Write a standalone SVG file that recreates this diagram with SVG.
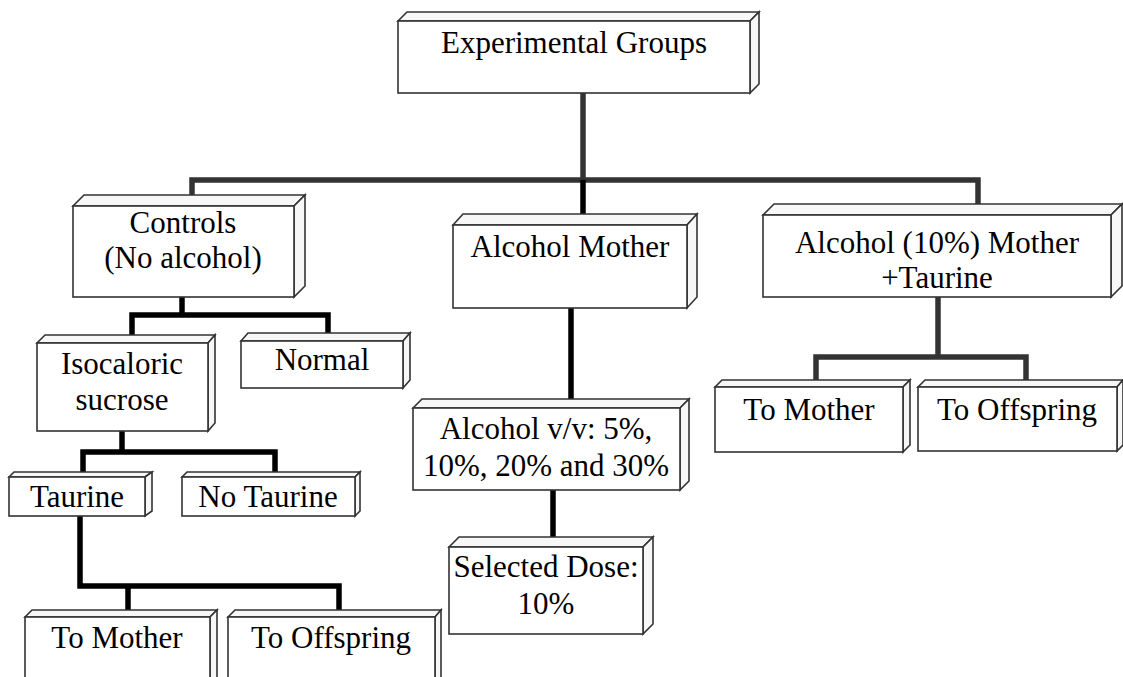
<svg xmlns="http://www.w3.org/2000/svg" width="1123" height="677" viewBox="0 0 1123 677">
<style>
.f{fill:#fff;stroke:#333;stroke-width:1.6;stroke-linejoin:miter}
.s{fill:#f7f7f7;stroke:#333;stroke-width:1.6}
.t{font-family:"Liberation Serif","Times New Roman",serif;font-size:31px;fill:#000;text-anchor:middle}
.c{fill:none;stroke:#000;stroke-width:5.5;stroke-linejoin:miter;stroke-linecap:butt}
.g{stroke:#333}
</style>
<rect width="1123" height="677" fill="#fff"/>
<g id="connectors">
<path class="c g" d="M583 93V180"/>
<path class="c g" d="M192 195V180H978V204"/>
<path class="c" d="M583 180V214"/>
<path class="c" d="M571 308V399"/>
<path class="c" d="M553 490V537"/>
<path class="c g" d="M938 297V357"/>
<path class="c g" d="M816 380V357H1026V380"/>
<path class="c" d="M182 297V315"/>
<path class="c" d="M132 335V315H328V333"/>
<path class="c" d="M122 431V452"/>
<path class="c" d="M83 472V452H275V472"/>
<path class="c" d="M80 516V586H339V610"/>
<path class="c" d="M128 586V610"/>
</g>
<g id="n-experimental">
<polygon class="s" points="398,21 407,12 759,12 750,21"/>
<polygon class="s" points="750,21 759,12 759,84 750,93"/>
<rect class="f" x="398" y="21" width="352" height="72"/>
<text class="t" x="574" y="53">Experimental Groups</text>
</g>
<g id="n-controls">
<polygon class="s" points="73,206 84,195 305,195 294,206"/>
<polygon class="s" points="294,206 305,195 305,286 294,297"/>
<rect class="f" x="73" y="206" width="221" height="91"/>
<text class="t" x="183" y="233">Controls</text>
<text class="t" x="183" y="268">(No alcohol)</text>
</g>
<g id="n-alcohol-mother">
<polygon class="s" points="453,225 463,214 697,214 687,225"/>
<polygon class="s" points="687,225 697,214 697,297 687,308"/>
<rect class="f" x="453" y="225" width="234" height="83"/>
<text class="t" x="570" y="257">Alcohol Mother</text>
</g>
<g id="n-alcohol-taurine">
<polygon class="s" points="763,215 774,204 1122,204 1111,215"/>
<polygon class="s" points="1111,215 1122,204 1122,286 1111,297"/>
<rect class="f" x="763" y="215" width="348" height="82"/>
<text class="t" x="937" y="253">Alcohol (10%) Mother</text>
<text class="t" x="937" y="288">+Taurine</text>
</g>
<g id="n-normal">
<polygon class="s" points="241,341 248,333 410,333 403,341"/>
<polygon class="s" points="403,341 410,333 410,380 403,388"/>
<rect class="f" x="241" y="341" width="162" height="47"/>
<text class="t" x="322" y="370">Normal</text>
</g>
<g id="n-isocaloric">
<polygon class="s" points="37,343 45,335 215,335 208,343"/>
<polygon class="s" points="208,343 215,335 215,423 208,431"/>
<rect class="f" x="37" y="343" width="171" height="88"/>
<text class="t" x="122" y="374">Isocaloric</text>
<text class="t" x="122" y="410">sucrose</text>
</g>
<g id="n-taurine">
<polygon class="s" points="9,477 14,472 152,472 145,477"/>
<polygon class="s" points="145,477 152,472 152,511 145,516"/>
<rect class="f" x="9" y="477" width="136" height="39"/>
<text class="t" x="77" y="507">Taurine</text>
</g>
<g id="n-no-taurine">
<polygon class="s" points="182,477 187,472 360,472 355,477"/>
<polygon class="s" points="355,477 360,472 360,511 355,516"/>
<rect class="f" x="182" y="477" width="173" height="39"/>
<text class="t" x="268" y="507">No Taurine</text>
</g>
<g id="n-alcohol-vv">
<polygon class="s" points="413,408 422,399 689,399 680,408"/>
<polygon class="s" points="680,408 689,399 689,481 680,490"/>
<rect class="f" x="413" y="408" width="267" height="82"/>
<text class="t" x="546" y="439">Alcohol v/v: 5%,</text>
<text class="t" x="546" y="476">10%, 20% and 30%</text>
</g>
<g id="n-selected-dose">
<polygon class="s" points="449,547 459,537 653,537 643,547"/>
<polygon class="s" points="643,547 653,537 653,624 643,634"/>
<rect class="f" x="449" y="547" width="194" height="87"/>
<text class="t" x="546" y="577">Selected Dose:</text>
<text class="t" x="546" y="614">10%</text>
</g>
<g id="n-to-mother-r">
<polygon class="s" points="715,387 722,380 910,380 903,387"/>
<polygon class="s" points="903,387 910,380 910,445 903,452"/>
<rect class="f" x="715" y="387" width="188" height="65"/>
<text class="t" x="809" y="420">To Mother</text>
</g>
<g id="n-to-offspring-r">
<polygon class="s" points="918,387 925,380 1123,380 1117,387"/>
<polygon class="s" points="1117,387 1123,380 1123,445 1117,451"/>
<rect class="f" x="918" y="387" width="199" height="64"/>
<text class="t" x="1017" y="420">To Offspring</text>
</g>
<g id="n-to-mother-l">
<polygon class="s" points="25,617 32,610 217,610 210,617"/>
<polygon class="s" points="210,617 217,610 217,690 210,697"/>
<rect class="f" x="25" y="617" width="185" height="80"/>
<text class="t" x="117" y="648">To Mother</text>
</g>
<g id="n-to-offspring-l">
<polygon class="s" points="228,617 235,610 441,610 435,617"/>
<polygon class="s" points="435,617 441,610 441,690 435,697"/>
<rect class="f" x="228" y="617" width="207" height="80"/>
<text class="t" x="331" y="648">To Offspring</text>
</g>
</svg>
